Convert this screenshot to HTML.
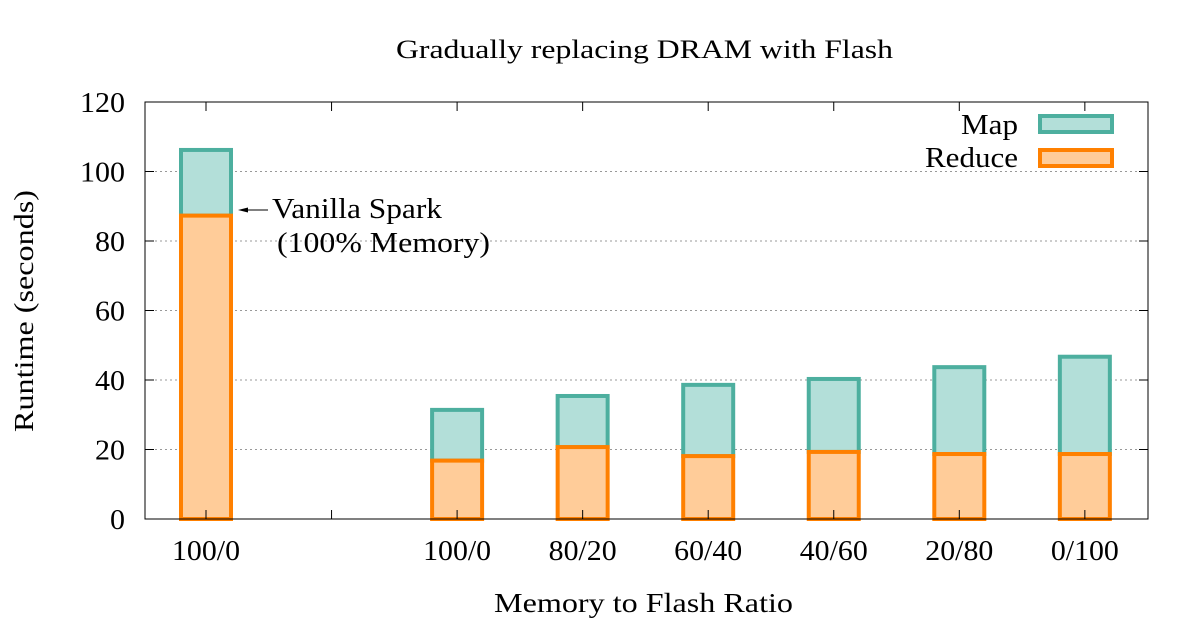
<!DOCTYPE html>
<html><head><meta charset="utf-8"><style>
body{margin:0;background:#fff}
svg{display:block;font-family:"Liberation Serif",serif}
</style></head><body>
<svg id="chart" width="1200" height="628" viewBox="0 0 1200 628">
<text x="396" y="58" font-size="26" textLength="497" lengthAdjust="spacingAndGlyphs">Gradually replacing DRAM with Flash</text>
<text x="494" y="612" font-size="27" textLength="299" lengthAdjust="spacingAndGlyphs">Memory to Flash Ratio</text>
<text transform="translate(33,432) rotate(-90)" font-size="27" textLength="242" lengthAdjust="spacingAndGlyphs">Runtime (seconds)</text>
<g id="grid"></g>
<g id="bars"></g>
<g id="axes"></g>
<g>
<text x="961" y="134" font-size="28" textLength="57" lengthAdjust="spacingAndGlyphs">Map</text>
<rect x="1040" y="116" width="72" height="16" fill="#b3dfd9" stroke="#4daf9f" stroke-width="4"/>
<text x="925" y="167" font-size="28" textLength="93" lengthAdjust="spacingAndGlyphs">Reduce</text>
<rect x="1040" y="150" width="72" height="16" fill="#ffcc99" stroke="#ff8000" stroke-width="4"/>
</g>
<g>
<line x1="240" y1="210" x2="268" y2="210" stroke="#000" stroke-width="1"/>
<path d="M238 210 L248 207.5 L248 212.5 Z" fill="#000"/>
<text x="272" y="218" font-size="28" textLength="170" lengthAdjust="spacingAndGlyphs">Vanilla Spark</text>
<text x="277" y="252" font-size="28" textLength="213" lengthAdjust="spacingAndGlyphs">(100% Memory)</text>
</g>
</svg>
<script>
const categories=["100/0","","100/0","80/20","60/40","40/60","20/80","0/100"];
const reduceVals=[87.3,null,16.8,20.7,18.1,19.3,18.7,18.7];
const totalVals=[106.2,null,31.4,35.4,38.6,40.3,43.7,46.7];
const yTicks=[0,20,40,60,80,100,120];
const NS="http://www.w3.org/2000/svg";
const L=145,R=1148,T=102,B=519,yMax=120;
const y=v=>B-(v/yMax)*(B-T);
const x0=206,step=125.55;
const x=i=>x0+i*step;
const bw=50;
function mk(tag,attrs,parent){const e=document.createElementNS(NS,tag);for(const k in attrs)e.setAttribute(k,attrs[k]);document.getElementById(parent).appendChild(e);return e;}
yTicks.forEach(t=>{
  if(t>0&&t<yMax){const g=mk('line',{x1:L,x2:R,y1:y(t),y2:y(t),stroke:'#999','stroke-dasharray':'2,3','stroke-width':1},'grid');
  
  }
  const tk=mk('line',{x1:L,x2:L+9,y1:y(t),y2:y(t),stroke:'#000'},'axes');
  
  
  const tk2=mk('line',{x1:R-9,x2:R,y1:y(t),y2:y(t),stroke:'#000'},'axes');
  
  
  const s=String(t);
  const lb=mk('text',{x:125,y:y(t)+10,'font-size':28,'text-anchor':'end',textLength:s.length*15,lengthAdjust:'spacingAndGlyphs'},'axes');
  lb.textContent=t;
  
  
});
categories.forEach((c,i)=>{
  const a=mk('line',{x1:x(i),x2:x(i),y1:B,y2:B-9,stroke:'#000'},'axes');
  
  
  const b=mk('line',{x1:x(i),x2:x(i),y1:T,y2:T+9,stroke:'#000'},'axes');
  
  
  if(c){const lb=mk('text',{x:x(i),y:560,'font-size':28,'text-anchor':'middle',textLength:c.length*13.6,lengthAdjust:'spacingAndGlyphs'},'axes');
  lb.textContent=c;
  
  }
  if(reduceVals[i]!=null){
    const m=mk('rect',{x:x(i)-bw/2,y:y(totalVals[i]),width:bw,height:y(reduceVals[i])-y(totalVals[i]),fill:'#b3dfd9',stroke:'#4daf9f','stroke-width':4},'bars');
    
    
    const r=mk('rect',{x:x(i)-bw/2,y:y(reduceVals[i]),width:bw,height:B-y(reduceVals[i]),fill:'#ffcc99',stroke:'#ff8000','stroke-width':4},'bars');
    
    
  }
});
const fr=mk('rect',{x:L,y:T,width:R-L,height:B-T,fill:'none',stroke:'#000','stroke-width':1},'axes');


</script>
</body></html>
